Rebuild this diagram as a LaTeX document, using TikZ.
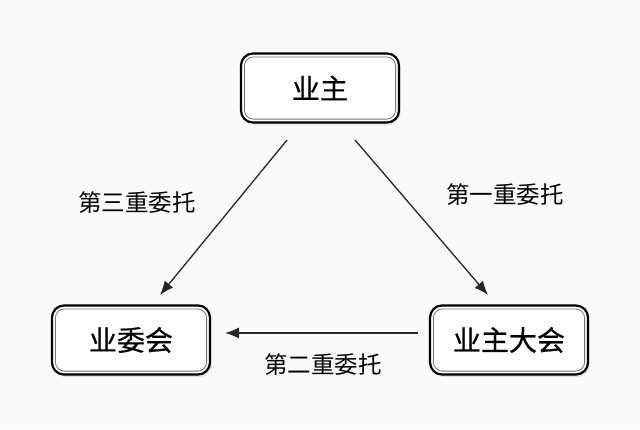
\documentclass[tikz,border=0pt]{standalone}
\usepackage{fontspec}
\setmainfont{Noto Sans CJK SC}
\newfontfamily\boxfont[FakeBold=0.6]{Noto Sans CJK SC}
\usetikzlibrary{shadows,calc,arrows.meta}
\definecolor{bg}{HTML}{FAFAF8}
\tikzset{
  box/.style={draw=black, line width=2.2pt, rounded corners=12pt, fill=white,
    minimum width=158pt, minimum height=69pt, font=\boxfont\fontsize{28}{32}\selectfont,
    drop shadow={opacity=0.18, shadow xshift=1.5pt, shadow yshift=-2.5pt}},
  inner/.style={draw=black!55, line width=0.8pt, rounded corners=9pt},
  conn/.style={line width=1.3pt, draw=black!85, -{Latex[length=14pt,width=11pt]}},
  lbl/.style={font=\fontsize{23.5}{27}\selectfont}
}
\begin{document}
\begin{tikzpicture}[x=1pt,y=-1pt]
\fill[bg] (0,0) rectangle (640,429);
\useasboundingbox (0,0) rectangle (640,429);
\node[box] (owner) at (320,88) {业主};
\node[box] (committee) at (131,340) {业委会};
\node[box] (assembly) at (509,340) {业主大会};
\foreach \n in {owner,committee,assembly}{
  \draw[inner] ($(\n.north west)+(4.5,4.5)$) rectangle ($(\n.south east)+(-4.5,-4.5)$);
}
\coordinate (a1s) at (287,140);
\coordinate (a1e) at (160,295);
\coordinate (a2s) at (355,140);
\coordinate (a2e) at (488,295);
\coordinate (a3s) at (418,333);
\coordinate (a3e) at (225,333);
\draw[conn] (a1s) -- (a1e);
\draw[conn] (a2s) -- (a2e);
\draw[conn] (a3s) -- (a3e);
\node[lbl] (l3) at (137,203) {第三重委托};
\node[lbl] (l1) at (505,195) {第一重委托};
\node[lbl] (l2) at (323,365) {第二重委托};
\end{tikzpicture}
\end{document}
